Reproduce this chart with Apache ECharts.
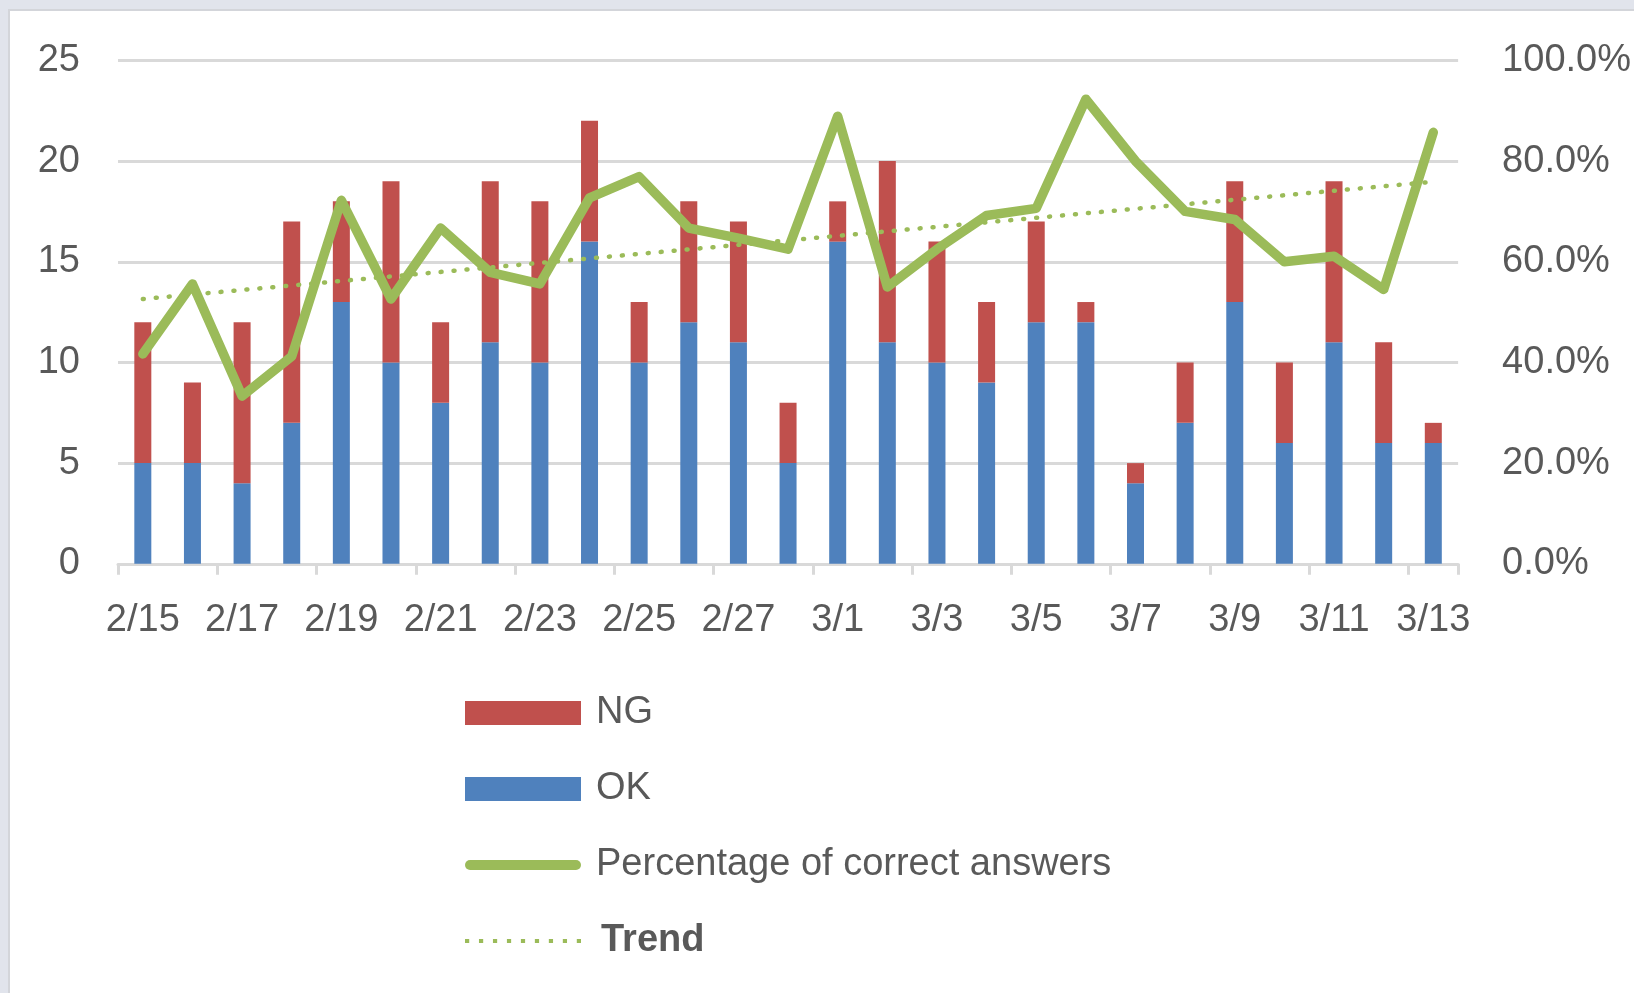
<!DOCTYPE html>
<html>
<head>
<meta charset="utf-8">
<script src="https://cdn.jsdelivr.net/npm/echarts@6/dist/echarts.min.js"></script>
<style>
html,body{margin:0;padding:0;background:#e1e4ec;overflow:hidden;}
#c{width:1634px;height:993px;}
</style>
</head>
<body>
<div id="c"></div>
<script>
const categories = ['2/15','2/16','2/17','2/18','2/19','2/20','2/21','2/22','2/23','2/24','2/25','2/26','2/27','2/28','3/1','3/2','3/3','3/4','3/5','3/6','3/7','3/8','3/9','3/10','3/11','3/12','3/13'];
const okValues = [5,5,4,7,13,10,8,11,10,16,10,12,11,5,16,11,10,9,12,12,4,7,13,6,11,6,6];
const ngValues = [7,4,8,10,5,9,4,8,8,6,3,6,6,3,2,9,6,4,5,1,1,3,6,4,8,5,1];
const pctValues = [41.7,55.6,33.3,41.2,72.2,52.6,66.7,57.9,55.6,72.7,76.9,66.7,64.7,62.5,88.9,55.0,62.5,69.2,70.6,92.3,80.0,70.0,68.4,60.0,61.1,54.5,85.7];
const trendValues = [52.6,null,null,null,null,null,null,null,null,null,null,null,null,null,null,null,null,null,null,null,null,null,null,null,null,null,75.9];
const leftTicks = {min:0,max:25,interval:5};
const rightTicks = {min:0,max:100,interval:20};

const FONT = '"Liberation Sans",sans-serif';
const TXT = '#595959';
const GRID = '#d9d9d9';

// legend icon shapes
const thickLineIcon = 'path://M5,0 L111,0 A5,5 0 0 1 111,10 L5,10 A5,5 0 0 1 5,0 Z';
let dots = '';
for (let i = 0; i < 9; i++) { const x = i * 13.3; dots += 'M' + x + ',0 L' + (x + 4) + ',0 L' + (x + 4) + ',4 L' + x + ',4 Z '; }
const dottedIcon = 'path://' + dots;

const chart = echarts.init(document.getElementById('c'), null, {width:1634, height:993});
chart.setOption({
  backgroundColor: '#e1e4ec',
  animation: false,
  textStyle: {fontFamily: FONT},
  graphic: [{type:'rect', z:-10, silent:true, shape:{x:9,y:10,width:1640,height:1000}, style:{fill:'#ffffff', stroke:'#d3d5da', lineWidth:2}}],
  grid: {left:118, right:167, top:60.4, bottom:429.2, containLabel:false},
  legend: {
    orient:'vertical', left:460, top:688, itemWidth:116, itemHeight:24, itemGap:36,
    textStyle:{color:TXT, fontSize:38, fontFamily:FONT, lineHeight:40, padding:[0,0,0,10]},
    data:[
      {name:'NG', icon:'rect'},
      {name:'OK', icon:'rect'},
      {name:'Percentage of correct answers', icon: thickLineIcon},
      {name:'Trend', icon: dottedIcon, textStyle:{fontWeight:'bold', padding:[0,0,0,15]}}
    ]
  },
  xAxis: {
    type:'category', data:categories,
    axisLine:{lineStyle:{color:GRID,width:3}},
    axisTick:{show:true, interval:1, length:11, lineStyle:{color:GRID,width:3}},
    axisLabel:{interval:1, color:TXT, fontSize:38, fontFamily:FONT, margin:38}
  },
  yAxis: [
    {type:'value', min:leftTicks.min, max:leftTicks.max, interval:leftTicks.interval,
     axisLine:{show:false}, axisTick:{show:false},
     splitLine:{lineStyle:{color:GRID,width:3}},
     axisLabel:{color:TXT, fontSize:38, fontFamily:FONT, margin:38}},
    {type:'value', min:rightTicks.min, max:rightTicks.max, interval:rightTicks.interval,
     axisLine:{show:false}, axisTick:{show:false}, splitLine:{show:false},
     axisLabel:{color:TXT, fontSize:38, fontFamily:FONT, margin:44, formatter:v=>v.toFixed(1)+'%'}}
  ],
  series: [
    {name:'OK', type:'bar', stack:'a', data:okValues, barWidth:17, itemStyle:{color:'#4f81bd'}},
    {name:'NG', type:'bar', stack:'a', data:ngValues, barWidth:17, itemStyle:{color:'#c0504d'}},
    {name:'Percentage of correct answers', type:'line', yAxisIndex:1, data:pctValues, symbol:'none',
     lineStyle:{color:'#9bbb59', width:9.5, cap:'round', join:'round'}, itemStyle:{color:'#9bbb59'}, z:5},
    {name:'Trend', type:'line', yAxisIndex:1, data:trendValues, connectNulls:true, symbol:'none',
     lineStyle:{color:'#9bbb59', width:4.5, type:[1,12], cap:'round'}, itemStyle:{color:'#9bbb59'}, z:4}
  ]
});
</script>
</body>
</html>
